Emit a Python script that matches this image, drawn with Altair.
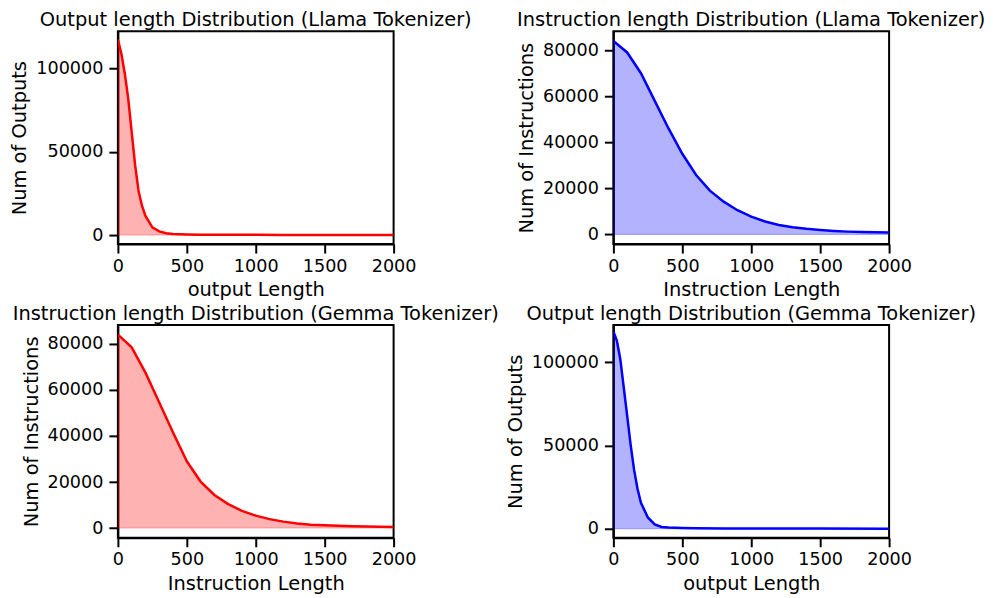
import altair as alt
import pandas as pd

# ---- data ----
out_x = [0, 25, 50, 75, 100, 125, 150, 175, 200, 250, 300, 350, 400, 500, 600, 800, 1000, 1200, 1500, 2000]
llama_out = [117500, 109000, 97000, 82000, 62000, 42000, 26500, 17500, 11500, 4600, 2200, 1100, 600, 350, 250, 180, 140, 110, 80, 50]
gemma_out = [118500, 113000, 102000, 85000, 68000, 50500, 35500, 24000, 15600, 6800, 2600, 1100, 700, 400, 280, 200, 150, 120, 90, 60]

instr_x = [0, 100, 200, 300, 400, 500, 600, 700, 800, 900, 1000,
           1100, 1200, 1300, 1400, 1500, 1600, 1700, 1800, 1900, 2000]
llama_instr = [84000, 79000, 70000, 58000, 46000, 35000, 25800, 19000, 14200, 10500, 7700,
               5600, 4100, 3100, 2400, 1900, 1500, 1200, 1000, 900, 800]
gemma_instr = [84000, 78500, 67500, 54500, 41500, 29000, 20200, 14400, 10400, 7500, 5400,
               3900, 2800, 2000, 1500, 1200, 1000, 800, 700, 600, 500]

x_ticks = [0, 500, 1000, 1500, 2000]
out_ticks = [0, 50000, 100000]
instr_ticks = [0, 20000, 40000, 60000, 80000]

FONT = "DejaVu Sans"
TICK_FS = 17.6
TITLE_FS = 19.44


def panel(xs, ys, color, title, xtitle, ytitle, ydomain, yticks):
    df = pd.DataFrame({"x": xs, "y": ys})
    base = alt.Chart(df)
    x = alt.X("x:Q", scale=alt.Scale(domain=[0, 2000], nice=False, zero=False),
              axis=alt.Axis(values=x_ticks, title=xtitle, format="d"))
    y = alt.Y("y:Q", scale=alt.Scale(domain=ydomain, nice=False, zero=False),
              axis=alt.Axis(values=yticks, title=ytitle, format="d"))
    area = base.mark_area(fill=color, fillOpacity=0.3, stroke=color, strokeOpacity=0.3,
                          strokeWidth=1, clip=True).encode(x=x, y=y, y2=alt.datum(0))
    line = base.mark_line(color=color, strokeWidth=2.5, clip=True).encode(x=x, y=y)
    return alt.layer(area, line).properties(
        width=276, height=213,
        title=alt.TitleParams(title, baseline="alphabetic", offset=-14))


p1 = panel(out_x, llama_out, "#ff0000", "Output length Distribution (Llama Tokenizer)",
           "output Length", "Num of Outputs", [-5400, 122400], out_ticks)
p2 = panel(instr_x, llama_instr, "#0000ff", "Instruction length Distribution (Llama Tokenizer)",
           "Instruction Length", "Num of Instructions", [-4200, 88200], instr_ticks)
p3 = panel(instr_x, gemma_instr, "#ff0000", "Instruction length Distribution (Gemma Tokenizer)",
           "Instruction Length", "Num of Instructions", [-4200, 88200], instr_ticks)
p4 = panel(out_x, gemma_out, "#0000ff", "Output length Distribution (Gemma Tokenizer)",
           "output Length", "Num of Outputs", [-5400, 122400], out_ticks)

chart = alt.concat(p1, p2, p3, p4, columns=2,
                   spacing=alt.RowColnumber(column=3, row=1)).properties(
    padding={"left": 0, "top": 0, "right": 0, "bottom": 0}
).configure(
    background="white"
).configure_axis(
    labelFont=FONT, labelFontSize=TICK_FS, labelColor="black",
    titleFont=FONT, titleFontSize=TITLE_FS, titleFontWeight="normal", titleColor="black",
    tickColor="black", tickSize=9, tickWidth=2,
    domainColor="black", domainWidth=2,
    labelPadding=4, titlePadding=6, grid=False,
    labelFlush=False, labelOverlap=False
).configure_axisY(
    labelPadding=6
).configure_title(
    font=FONT, fontSize=TITLE_FS, fontWeight="normal", color="black", anchor="middle"
).configure_view(
    stroke="black", strokeWidth=2
)

chart.save("out.html", embed_options={"renderer": "svg", "actions": False})
